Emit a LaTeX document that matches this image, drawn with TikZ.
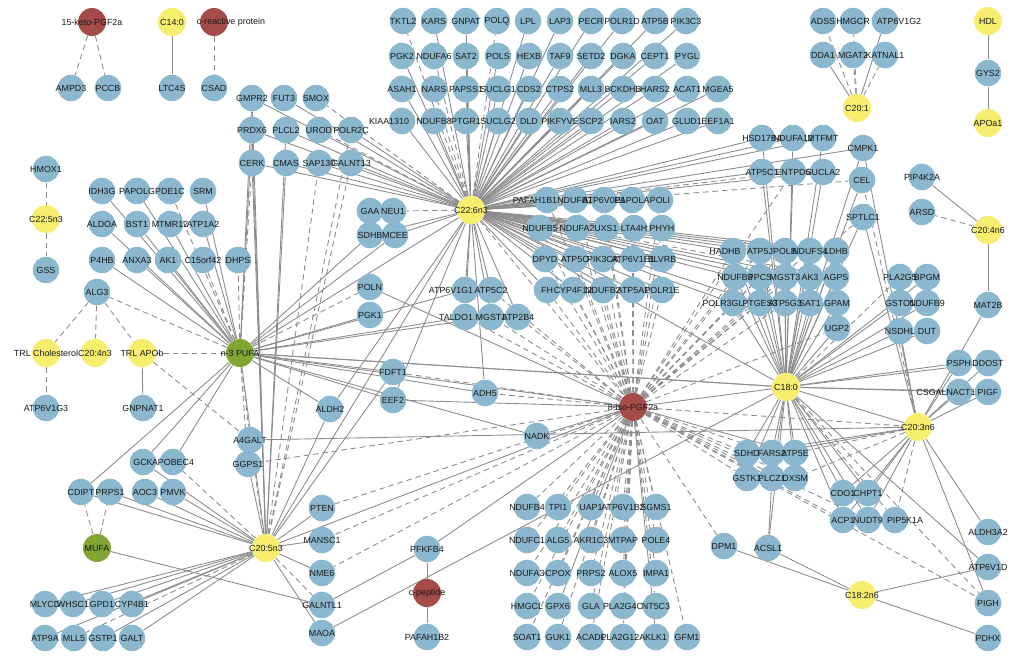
\documentclass[tikz,border=0pt]{standalone}
\usepackage{fontspec}
\setmainfont{Liberation Sans}
\definecolor{nblue}{RGB}{139,184,206}
\definecolor{nyellow}{RGB}{248,238,110}
\definecolor{nred}{RGB}{166,76,72}
\definecolor{ngreen}{RGB}{130,166,50}
\definecolor{egray}{RGB}{140,140,140}
\definecolor{ntext}{RGB}{25,25,25}
\pgfdeclarelayer{edges}
\pgfdeclarelayer{labels}
\pgfsetlayers{edges,main,labels}
\newcommand\mynode[5][0]{%
  \node[#2] (#3) at (#4) {};%
  \begin{pgfonlayer}{labels}\node[lbl] (#3-l) at ([xshift=#1*0.02cm]#3) {#5};\end{pgfonlayer}}
\newcommand\gene[2]{\mynode{gn}{#1}{#2}{#1}}
\begin{document}
\begin{tikzpicture}[x=0.02cm,y=-0.02cm,
  gn/.style={circle,fill=nblue,minimum size=0.53cm,inner sep=0pt},
  yn/.style={gn,fill=nyellow,minimum size=0.56cm},
  rn/.style={gn,fill=nred,minimum size=0.56cm},
  grn/.style={gn,fill=ngreen,minimum size=0.56cm},
  lbl/.style={inner sep=0pt,font=\fontsize{5.05}{6}\selectfont,text=ntext},
  ln/.style={draw=egray,line width=0.5pt},
  dln/.style={ln,dash pattern=on 3.2pt off 2.2pt}]
\useasboundingbox (0,0) rectangle (1024,670);
% ---------------- nodes ----------------
\mynode{rn}{ketoPGF}{92,22}{15-keto-PGF2a}
\gene{AMPD3}{71,88} \gene{PCCB}{108,88}
\mynode{yn}{C140}{172,22}{C14:0}
\mynode[17]{rn}{CRP}{214,22}{c-reactive protein}
\gene{LTC4S}{172,88} \gene{CSAD}{214,88}
\gene{HMOX1}{46,169}
\mynode{yn}{C225n3}{46,219}{C22:5n3}
\gene{GSS}{46,270}
\foreach \n/\x in {IDH3G/102,PAPOLG/137,PDE1C/170,SRM/203} \gene{\n}{\x,191};
\foreach \n/\x in {ALDOA/102,BST1/137,MTMR12/170,ATP1A2/203} \gene{\n}{\x,224};
\foreach \n/\x in {P4HB/102,ANXA3/137,AK1/168,C15orf42/203,DHPS/238} \gene{\n}{\x,260};
\gene{ALG3}{97,292}
\mynode{yn}{TRLChol}{46,353}{TRL Cholesterol}
\mynode{yn}{C204n3}{95,353}{C20:4n3}
\mynode{yn}{TRLAPOb}{142,353}{TRL APOb}
\mynode{grn}{n3PUFA}{240,353}{n-3 PUFA}
\gene{ATP6V1G3}{46,408} \gene{GNPNAT1}{143,408}
\gene{A4GALT}{250,440} \gene{GGPS1}{248,464}
\gene{GCK}{143,462} \gene{APOBEC4}{173,462}
\foreach \n/\x in {CDIPT/81,PRPS1/110,AOC3/145,PMVK/173} \gene{\n}{\x,492};
\mynode{grn}{MUFA}{97,548}{MUFA}
\mynode{yn}{C205n3}{266,548}{C20:5n3}
\foreach \n/\x in {MLYCD/45,WHSC1/73,GPD1/102,CYP4B1/132} \gene{\n}{\x,604};
\foreach \n/\x in {ATP9A/45,MLL5/74,GSTP1/103,GALT/132} \gene{\n}{\x,638};
\foreach \n/\y in {PTEN/508,MANSC1/540,NME6/573,GALNTL1/605,MAOA/633} \gene{\n}{322,\y};
\gene{PFKFB4}{427,549}
\mynode{rn}{cpeptide}{427,593}{c-peptide}
\gene{PAFAH1B2}{427,637}
\gene{ALDH2}{330,409}
\foreach \n/\x in {GMPR2/252,FUT3/284,SMOX/316} \gene{\n}{\x,98};
\foreach \n/\x in {PRDX6/252,PLCL2/286,UROD/319,POLR2C/351} \gene{\n}{\x,130};
\foreach \n/\x in {CERK/252,CMAS/286,SAP130/319,GALNT13/351} \gene{\n}{\x,163};
\gene{GAA}{370,211} \gene{NEU1}{393,211}
\gene{SDHB}{370,235} \gene{MCEE}{395,235}
\gene{POLN}{370,287} \gene{PGK1}{370,315}
\gene{FDFT1}{393,372} \gene{EEF2}{393,400} \gene{ADH5}{485,393}
\mynode[-14]{gn}{ATP6V1G1}{465,290}{ATP6V1G1} \gene{ATP5C2}{491,290}
\mynode[-9]{gn}{TALDO1}{465,317}{TALDO1} \gene{MGST1}{491,317} \gene{ATP2B4}{518,317}
\foreach \n/\x in {TKTL2/403,KARS/434,GNPAT/466,POLQ/497,LPL/528,LAP3/560,PECR/591,POLR1D/622,ATP5B/655,PIK3C3/686} \gene{\n}{\x,21};
\foreach \n/\x in {PGK2/402,NDUFA6/434,SAT2/466,POLS/498,HEXB/529,TAF9/560,SETD2/591,DGKA/623,CEPT1/655,PYGL/687} \gene{\n}{\x,56};
\foreach \n/\x in {ASAH1/402,NARS/434,PAPSS1/466,SUCLG1/498,CDS2/529,CTPS2/560,MLL3/591,BCKDHB/623,HARS2/655,ACAT1/687,MGEA5/718} \gene{\n}{\x,89};
\mynode[-13]{gn}{KIAA1310}{402,121}{KIAA1310}
\foreach \n/\x in {NDUFB8/434,PTGR1/466,SUCLG2/498,DLD/529,PIKFYVE/560,SCP2/591,IARS2/623,OAT/655,GLUD1/687,EEF1A1/718} \gene{\n}{\x,121};
\mynode{yn}{C226n3}{471,210}{C22:6n3}
\mynode[-12]{gn}{PAFAH1B1}{547,200}{PAFAH1B1}
\foreach \n/\x in {NDUFB1/575,ATP6V0E1/604,PAPOLA/632,POLI/660} \gene{\n}{\x,200};
\foreach \n/\x in {NDUFB5/540,NDUFA2/577,UXS1/606,LTA4H/634,PHYH/662} \gene{\n}{\x,228};
\foreach \n/\x in {DPYD/545,ATP5O/575,PIK3CA/603,ATP6V1E1/633,BLVRB/662} \gene{\n}{\x,259};
\foreach \n/\x in {FH/547,CYP4F12/573,NDUFB2/603,ATP5A1/633,POLR1E/662} \gene{\n}{\x,290};
\mynode{rn}{iso}{633,407}{8-iso-PGF2a}
\gene{NADK}{537,436}
\gene{HSD17B4}{762,138} \gene{NDUFA12}{793,138} \gene{MTFMT}{823,138} \gene{CMPK1}{863,148}
\gene{ATP5C1}{762,172} \gene{ENTPD6}{793,172} \gene{SUCLA2}{823,172} \gene{CEL}{862,180}
\gene{SPTLC1}{863,217}
\mynode[-8]{gn}{HADHB}{733,251}{HADHB}
\foreach \n/\x in {ATP5J/760,POLB/785,NDUFS4/810,LDHB/836} \gene{\n}{\x,251};
\foreach \n/\x in {NDUFB3/735,PPCS/760,MGST3/785,AK3/810,AGPS/836} \gene{\n}{\x,277};
\mynode[-10]{gn}{POLR3GL}{733,303}{POLR3GL}
\foreach \n/\x in {PTGES3/760,ATP5G3/785,SAT1/810,GPAM/837} \gene{\n}{\x,303};
\gene{UGP2}{837,328}
\gene{PLA2G5}{900,277} \gene{BPGM}{927,277}
\gene{GSTO1}{900,303} \gene{NDUFB9}{927,303}
\gene{NSDHL}{900,331} \gene{DUT}{927,331}
\gene{PIP4K2A}{922,177} \gene{ARSD}{922,212}
\mynode{yn}{C204n6}{988,230}{C20:4n6}
\gene{MAT2B}{988,305}
\gene{PSPH}{959,363} \gene{DDOST}{988,363}
\mynode[-13]{gn}{CSGALNACT1}{959,392}{CSGALNACT1} \gene{PIGF}{988,392}
\mynode{yn}{C180}{786,387}{C18:0}
\mynode{yn}{C203n6}{918,427}{C20:3n6}
\gene{ADSS}{823,21} \gene{HMGCR}{853,21} \mynode[14]{gn}{ATP6V1G2}{885,21}{ATP6V1G2}
\gene{DDA1}{823,55} \gene{MGAT2}{853,55} \gene{KATNAL1}{885,55}
\mynode{yn}{C201}{857,108}{C20:1}
\mynode{yn}{HDL}{988,21}{HDL}
\gene{GYS2}{988,73}
\mynode{yn}{APOa1}{988,123}{APOa1}
\gene{SDHD}{747,453} \gene{FARS2}{772,453} \gene{ATP5E}{795,453}
\gene{GSTK1}{747,478} \gene{PLCZ1}{772,478} \gene{OXSM}{795,478}
\gene{CDO1}{843,493} \gene{CHPT1}{868,493}
\gene{ACP1}{843,520} \gene{NUDT9}{868,520} \mynode[10]{gn}{PIP5K1A}{895,520}{PIP5K1A}
\gene{ACSL1}{768,548} \gene{DPM1}{724,546}
\mynode{yn}{C182n6}{862,595}{C18:2n6}
\gene{ALDH3A2}{988,532} \gene{ATP6V1D}{988,567} \gene{PIGH}{988,603} \gene{PDHX}{988,638}
\foreach \n/\x in {NDUFB4/527,TPI1/558,UAP1/591,ATP6V1B2/623,SGMS1/656} \gene{\n}{\x,507};
\foreach \n/\x in {NDUFC1/527,ALG5/558,AKR1C3/591,MTPAP/623,POLE4/656} \gene{\n}{\x,540};
\foreach \n/\x in {NDUFA3/527,CPOX/558,PRPS2/591,ALOX5/623,IMPA1/656} \gene{\n}{\x,573};
\foreach \n/\x in {HMGCL/527,GPX6/558,GLA/591,PLA2G4C/623,NT5C3/656} \gene{\n}{\x,606};
\foreach \n/\x in {SOAT1/527,GUK1/558,ACADL/591,PLA2G12A/623,KLK1/656,GFM1/687} \gene{\n}{\x,637};
% ---------------- edges ----------------
\begin{pgfonlayer}{edges}
\fill[white] (0,0) rectangle (1024,670);
\draw[dln] (ketoPGF) -- (AMPD3); \draw[dln] (ketoPGF) -- (PCCB);
\draw[ln] (C140) -- (LTC4S); \draw[dln] (CRP) -- (CSAD);
\draw[dln] (HMOX1) -- (C225n3); \draw[dln] (C225n3) -- (GSS);
\draw[ln] (HDL) -- (GYS2); \draw[ln] (GYS2) -- (APOa1);
\foreach \t in {TRLChol,C204n3,TRLAPOb} \draw[dln] (ALG3) -- (\t);
\draw[dln] (TRLChol) -- (ATP6V1G3); \draw[ln] (TRLAPOb) -- (GNPNAT1); \draw[dln] (TRLAPOb) -- (A4GALT);
\foreach \t in {DDA1,ATP6V1G2} \draw[ln] (C201) -- (\t);
\foreach \t in {ADSS,HMGCR,MGAT2,KATNAL1} \draw[dln] (C201) -- (\t);
\draw[ln] (C204n6) -- (PIP4K2A); \draw[dln] (C204n6) -- (ARSD); \draw[ln] (C204n6) -- (MAT2B);
\foreach \t in {ACSL1,DPM1,ATP6V1D,PDHX} \draw[ln] (C182n6) -- (\t);
\draw[ln] (PLCZ1) -- (ACSL1);
\draw[dln] (MUFA) -- (CDIPT); \draw[dln] (MUFA) -- (PRPS1); \draw[ln] (MUFA) -- (GALNTL1);
\draw[ln] (cpeptide) -- (PFKFB4); \draw[ln] (cpeptide) -- (PAFAH1B2); \draw[ln] (GALNTL1) -- (PFKFB4);
\draw[ln] (GAA) -- (NEU1);
% C22:6n3
\foreach \t in {KARS,GNPAT,LPL,LAP3,PECR,POLR1D,ATP5B,PIK3C3,PGK2,SAT2,POLS,HEXB,TAF9,SETD2,DGKA,CEPT1,PYGL,ASAH1,PAPSS1,SUCLG1,CDS2,CTPS2,MLL3,BCKDHB,HARS2,ACAT1,MGEA5,KIAA1310,NDUFB8,PTGR1,SUCLG2,DLD,PIKFYVE,SCP2,IARS2,OAT,GLUD1,EEF1A1,GMPR2,FUT3,PRDX6,PLCL2,POLR2C,CERK,CMAS,SAP130,GALNT13,SDHB,MCEE,HSD17B4,NDUFA12,MTFMT,CMPK1,ATP5C1,SUCLA2,PAFAH1B1,NDUFB1,ATP6V0E1,PAPOLA,POLI,NDUFB5,NDUFA2,UXS1,LTA4H,PHYH,DPYD,ATP5O,PIK3CA,ATP6V1E1,BLVRB,FH,CYP4F12,NDUFB2,ATP5A1,POLR1E,HADHB,ATP5J,POLB,NDUFS4,LDHB,NDUFB3,PPCS,MGST3,AK3,POLR3GL,PTGES3,C180,ATP6V1G1,ATP5C2,TALDO1,MGST1,ATP2B4,ADH5,EEF2,ALDH2,n3PUFA,C205n3}
  \draw[ln] (C226n3) -- (\t);
\foreach \t in {TKTL2,POLQ,NDUFA6,NARS,SMOX,UROD,NEU1,CEL,ENTPD6,iso,AGPS}
  \draw[dln] (C226n3) -- (\t);
% n-3 PUFA
\foreach \t in {IDH3G,PAPOLG,SRM,ALDOA,BST1,MTMR12,ATP1A2,P4HB,ANXA3,AK1,GMPR2,PRDX6,SDHB,MCEE,PGK1,TALDO1,ATP6V1G1,FDFT1,EEF2,ADH5,ALDH2,C205n3,GCK,APOBEC4,CDIPT,iso,C180,NADK,MGST1}
  \draw[ln] (n3PUFA) -- (\t);
\foreach \t in {PDE1C,C15orf42,DHPS,ALG3,POLN,A4GALT,GGPS1,TRLAPOb,CERK}
  \draw[dln] (n3PUFA) -- (\t);
% 8-iso-PGF2a
\foreach \t in {PAFAH1B1,NDUFB1,ATP6V0E1,PAPOLA,POLI,NDUFB5,NDUFA2,UXS1,LTA4H,PHYH,DPYD,ATP5O,PIK3CA,ATP6V1E1,BLVRB,FH,CYP4F12,NDUFB2,ATP5A1,POLR1E,HADHB,ATP5J,POLB,NDUFS4,NDUFB3,PPCS,MGST3,POLR3GL,PTGES3,ATP5G3,UGP2,TALDO1,MGST1,ATP2B4,ATP5C2,ADH5,FDFT1,GGPS1,PTEN,MANSC1,NME6,NDUFB4,TPI1,UAP1,ATP6V1B2,SGMS1,NDUFC1,ALG5,AKR1C3,MTPAP,POLE4,NDUFA3,CPOX,PRPS2,ALOX5,IMPA1,HMGCL,GLA,PLA2G4C,NT5C3,SOAT1,GUK1,ACADL,PLA2G12A,GFM1,DPM1,SDHD,GSTK1,FARS2,PLCZ1,OXSM,NUDT9,ACP1,PIGH,C203n6,ENTPD6,SPTLC1}
  \draw[dln] (iso) -- (\t);
\foreach \t in {KLK1,GPX6,PFKFB4,NADK,C180,C205n3,EEF2,ATP5E,POLN}
  \draw[ln] (iso) -- (\t);
% C18:0
\foreach \t in {HSD17B4,NDUFA12,MTFMT,CMPK1,ATP5C1,ENTPD6,SUCLA2,CEL,SPTLC1,HADHB,ATP5J,POLB,NDUFS4,LDHB,NDUFB3,PPCS,MGST3,AK3,AGPS,POLR3GL,PTGES3,ATP5G3,SAT1,GPAM,UGP2,BPGM,GSTO1,NDUFB9,NSDHL,DUT,PSPH,DDOST,CSGALNACT1,PIGF,SDHD,FARS2,ATP5E,GSTK1,PLCZ1,OXSM,CDO1,CHPT1,ACP1,NUDT9,ACSL1,ATP6V1D,C203n6,MAOA,n3PUFA}
  \draw[ln] (C180) -- (\t);
\foreach \t in {PLA2G5,PIGH,PIP5K1A}
  \draw[dln] (C180) -- (\t);
% C20:3n6
\foreach \t in {CMPK1,SPTLC1,PSPH,DDOST,CSGALNACT1,PIGF,MAT2B,CDO1,CHPT1,ACP1,NUDT9,ALDH3A2,PIGH,A4GALT,SDHD,FARS2,NSDHL}
  \draw[ln] (C203n6) -- (\t);
\foreach \t in {CEL,PIP5K1A,OXSM,ATP5E}
  \draw[dln] (C203n6) -- (\t);
% C20:5n3
\foreach \t in {CDIPT,PRPS1,AOC3,PMVK,GCK,GGPS1,MLYCD,WHSC1,GPD1,CYP4B1,ATP9A,GSTP1,GALT,PTEN,MAOA,GMPR2,PRDX6,CERK,PLCL2,CMAS,FDFT1,ALDH2,NME6,MANSC1}
  \draw[ln] (C205n3) -- (\t);
\foreach \t in {APOBEC4,A4GALT,MLL5,SAP130,GALNT13,GALNTL1,POLR2C}
  \draw[dln] (C205n3) -- (\t);
\end{pgfonlayer}
\end{tikzpicture}
\end{document}
